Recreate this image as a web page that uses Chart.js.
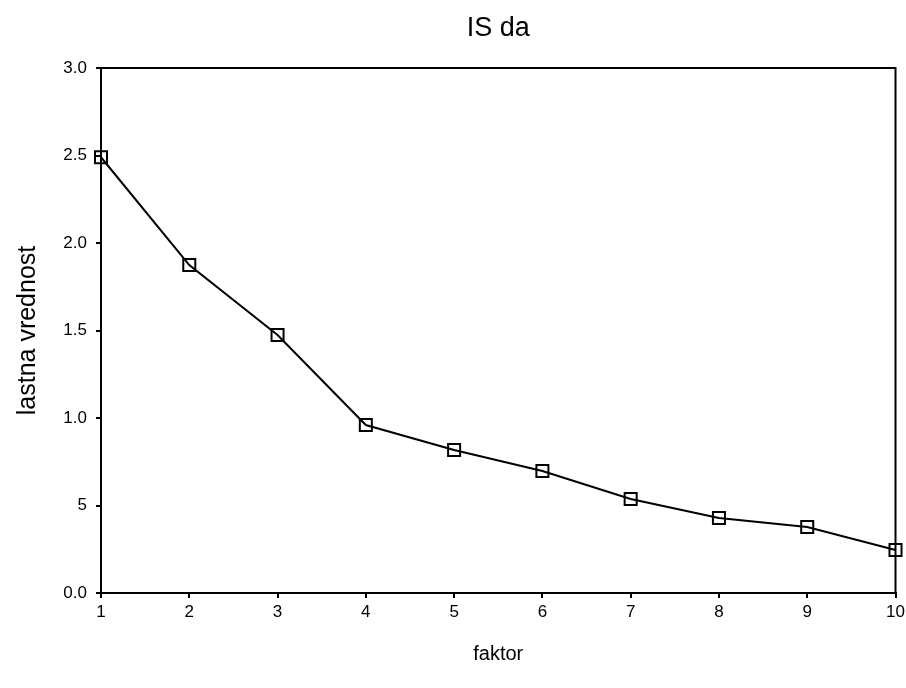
<!DOCTYPE html>
<html>
<head>
<meta charset="utf-8">
<script src="https://cdn.jsdelivr.net/npm/chart.js@4"></script>
<style>
html,body{margin:0;padding:0;background:#fff;}
#wrap{width:906px;height:688px;}
</style>
</head>
<body>
<div id="wrap"><canvas id="c" width="906" height="688"></canvas></div>
<script>
const factors = [1, 2, 3, 4, 5, 6, 7, 8, 9, 10];
const eigenvalues = [2.49, 1.874, 1.474, 0.96, 0.817, 0.697, 0.537, 0.429, 0.377, 0.246];
const yTickValues = [0, 0.5, 1, 1.5, 2, 2.5, 3];
const yTickLabels = ["0.0", "5", "1.0", "1.5", "2.0", "2.5", "3.0"];
const titleText = "IS da";
const xTitle = "faktor";
const yTitle = "lastna vrednost";

const FONT = "'Liberation Sans', Arial, sans-serif";

const frame = {
  id: 'frame',
  afterDatasetsDraw(chart) {
    const a = chart.chartArea, ctx = chart.ctx;
    ctx.save();
    ctx.strokeStyle = '#000';
    ctx.lineWidth = 2;
    ctx.strokeRect(a.left, a.top, a.right - a.left, a.bottom - a.top);
    ctx.restore();
  }
};

new Chart(document.getElementById('c'), {
  type: 'line',
  data: {
    datasets: [{
      data: factors.map((f, i) => ({x: f, y: eigenvalues[i]})),
      borderColor: '#000',
      borderWidth: 2,
      pointStyle: 'rect',
      pointRadius: 8.5,
      pointBorderWidth: 2,
      pointBackgroundColor: 'rgba(255,255,255,0)',
      pointBorderColor: '#000',
      tension: 0,
      clip: false
    }]
  },
  plugins: [frame],
  options: {
    responsive: false,
    animation: false,
    layout: {padding: {left: 0, right: 10, top: 0, bottom: 22}},
    plugins: {
      legend: {display: false},
      tooltip: {enabled: false},
      title: {
        display: true, text: titleText, color: '#000', fullSize: false,
        font: {family: FONT, size: 27, weight: 'normal'},
        padding: {top: 12, bottom: 23.6}
      }
    },
    scales: {
      x: {
        type: 'linear', min: 1, max: 10,
        afterBuildTicks(s) { s.ticks = factors.map(v => ({value: v})); },
        ticks: {color: '#000', font: {family: FONT, size: 17}, padding: 4, maxRotation: 0},
        grid: {display: true, drawOnChartArea: false, tickLength: 5, color: '#000', lineWidth: 2},
        border: {display: true, color: '#000', width: 2},
        title: {display: true, text: xTitle, color: '#000', font: {family: FONT, size: 20}, padding: {top: 28, bottom: 0}},
        afterFit(s) { s.height = 73; s.paddingRight = 0; s.paddingLeft = 0; }
      },
      y: {
        min: 0, max: 3,
        afterBuildTicks(s) { s.ticks = yTickValues.map(v => ({value: v})); },
        ticks: {color: '#000', font: {family: FONT, size: 17}, padding: 9,
          callback: (v) => { const i = yTickValues.indexOf(v); return i >= 0 ? yTickLabels[i] : ''; }},
        grid: {display: true, drawOnChartArea: false, tickLength: 5, color: '#000', lineWidth: 2},
        border: {display: true, color: '#000', width: 2},
        title: {display: true, text: yTitle, color: '#000', font: {family: FONT, size: 25}, padding: {top: 13, bottom: 0}},
        afterFit(s) { s.width = 101; }
      }
    }
  }
});
</script>
</body>
</html>
